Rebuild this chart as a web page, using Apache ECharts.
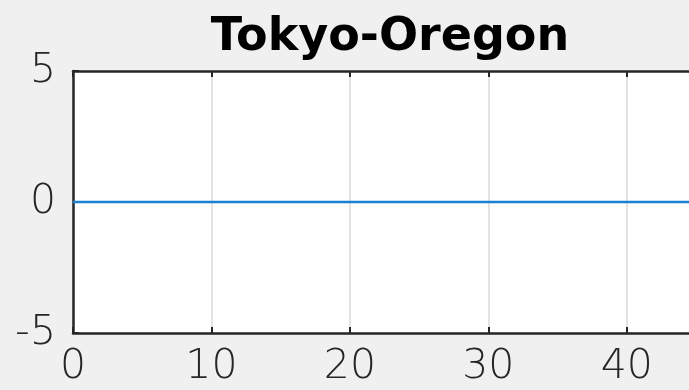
<!DOCTYPE html>
<html>
<head>
<meta charset="utf-8">
<script src="https://cdn.jsdelivr.net/npm/echarts@6/dist/echarts.min.js"></script>
<style>
  html, body { margin: 0; padding: 0; background: #f0f0f0; }
  #chart { width: 689px; height: 390px; }
</style>
</head>
<body>
<div id="chart"></div>
<script>
// Sample times and the Tokyo-Oregon difference signal
const times = [0, 5, 10, 15, 20, 25, 30, 35, 40, 45];
const diff = [0, 0, 0, 0, 0, 0, 0, 0, 0, 0];
const xTicks = [0, 10, 20, 30, 40];
const yTicks = [-5, 0, 5];

const chart = echarts.init(document.getElementById('chart'));
const labelFont = { fontFamily: 'DejaVu Sans', fontWeight: 300, fontSize: 41, color: '#262626' };
const frame = { show: true, onZero: false, lineStyle: { color: '#262626', width: 2.5 } };
const innerTick = { show: true, inside: true, length: 6, lineStyle: { color: '#262626', width: 2 } };

chart.setOption({
  backgroundColor: '#f0f0f0',
  animation: false,
  title: {
    text: 'Tokyo-Oregon',
    left: 385,
    textAlign: 'center',
    top: 10,
    textStyle: { fontFamily: 'DejaVu Sans', fontWeight: 'bold', fontSize: 46, color: '#000' }
  },
  grid: {
    left: 73, top: 71, right: -7, bottom: 57,
    outerBoundsMode: 'none', containLabel: false,
    backgroundColor: '#fff', show: true, borderWidth: 0
  },
  xAxis: [
    {
      type: 'value', position: 'bottom', min: 0, max: 45, interval: 10,
      axisLine: frame,
      axisTick: innerTick,
      axisLabel: Object.assign({ margin: 14, formatter: v => xTicks.includes(v) ? String(v) : '' }, labelFont),
      splitLine: { show: true, lineStyle: { color: '#e3e3e3', width: 2 } }
    },
    {
      type: 'value', position: 'top', min: 0, max: 45, interval: 10,
      axisLine: frame,
      axisTick: innerTick,
      axisLabel: { show: false },
      splitLine: { show: false }
    }
  ],
  yAxis: [
    {
      type: 'value', position: 'left', min: -5, max: 5, interval: 5,
      axisLine: frame,
      axisTick: innerTick,
      axisLabel: Object.assign({ margin: 17, formatter: v => yTicks.includes(v) ? String(v) : '' }, labelFont),
      splitLine: { show: false }
    },
    {
      type: 'value', position: 'right', min: -5, max: 5, interval: 5,
      axisLine: frame, axisTick: { show: false }, axisLabel: { show: false }, splitLine: { show: false }
    }
  ],
  series: [{
    type: 'line',
    data: times.map((t, i) => [t, diff[i]]),
    showSymbol: false,
    lineStyle: { color: '#1a80d2', width: 2.5 }
  }]
});
</script>
</body>
</html>
